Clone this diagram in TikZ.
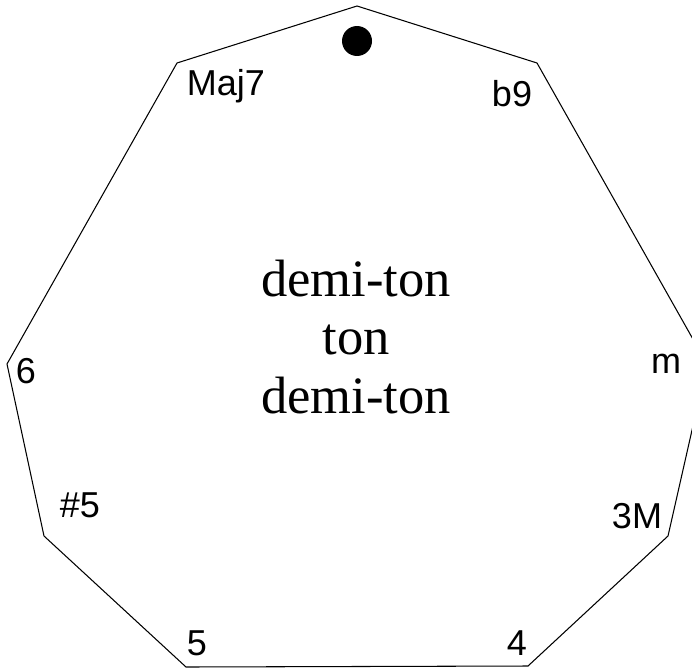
\documentclass[tikz,border=0pt]{standalone}
\usepackage{fontspec}
\setmainfont{Liberation Serif}
\setsansfont{Liberation Sans}
\begin{document}
\begin{tikzpicture}[x=0.02cm, y=-0.02cm, font=\sffamily\fontsize{20.5}{24}\selectfont]

\clip (0,0) rectangle (692,669);

% corners of the nonagon
\coordinate (c1) at (357,6);
\coordinate (c2) at (537,63);
\coordinate (c3) at (707,364);
\coordinate (c4) at (668,536);
\coordinate (c5) at (528,666);
\coordinate (c6) at (186,667);
\coordinate (c7) at (44,536);
\coordinate (c8) at (7,364);
\coordinate (c9) at (177,63);

\draw [line width=0.6pt] (c1) -- (c2) -- (c3) -- (c4) -- (c5) -- (c6) -- (c7) -- (c8) -- (c9) -- cycle;

\node [circle, fill, minimum size=0.6cm, inner sep=0pt] (dot) at (357,41) {};

\node [anchor=base] (maj7) at (226,95) {Maj7};
\node [anchor=base] (b9) at (512,107) {b9};
\node [anchor=base] (m) at (666,373) {m};
\node [anchor=base] (3M) at (637,528) {3M};
\node [anchor=base] (four) at (517,655) {4};
\node [anchor=base] (five) at (197,655) {5};
\node [anchor=base] (sharp5) at (80,517) {\#5};
\node [anchor=base] (six) at (26,383) {6};

\node [font=\rmfamily\fontsize{29.9}{33.3}\selectfont, align=center] (scale) at (356,337) {demi-ton\\ton\\demi-ton};

\end{tikzpicture}
\end{document}
